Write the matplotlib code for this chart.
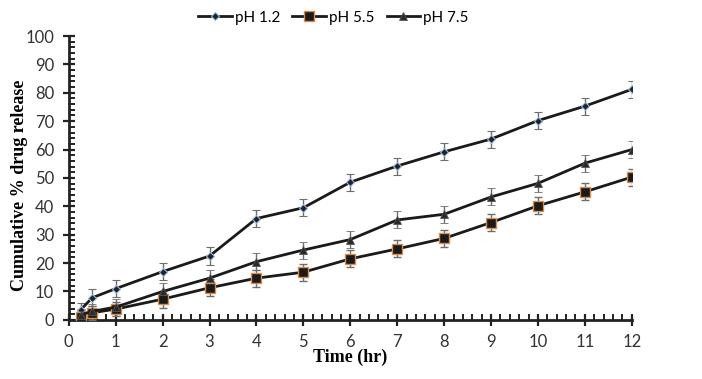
import matplotlib
matplotlib.use("Agg")
import matplotlib.pyplot as plt
from matplotlib.lines import Line2D
from matplotlib.ticker import MultipleLocator

# 数据
time_hr = [0.25, 0.5, 1, 2, 3, 4, 5, 6, 7, 8, 9, 10, 11, 12]
ph12 = [3.5, 7.8, 11.0, 17.0, 22.5, 35.7, 39.5, 48.5, 54.2, 59.2, 63.7, 70.2, 75.3, 81.2]
ph55 = [1.0, 2.5, 3.8, 7.3, 11.3, 14.7, 16.8, 21.5, 25.0, 28.7, 34.3, 40.2, 45.1, 50.3]
ph75 = [1.8, 3.0, 4.5, 10.0, 14.7, 20.5, 24.6, 28.3, 35.2, 37.2, 43.3, 48.1, 55.2, 60.0]
err12 = [2.5, 3.0, 3.0, 3.0, 3.0, 3.0, 3.0, 3.0, 3.0, 3.0, 3.0, 3.0, 3.0, 3.0]
err55 = [2.0, 2.5, 2.5, 3.0, 3.0, 3.0, 3.0, 3.0, 3.0, 3.0, 3.0, 3.0, 3.0, 3.0]
err75 = [2.0, 2.5, 3.0, 3.0, 3.0, 3.0, 3.0, 3.0, 3.0, 3.0, 3.0, 3.0, 3.0, 3.0]

fig = plt.figure(figsize=(7.02, 3.79), dpi=100)
ax = fig.add_axes([0.098, 0.156, 0.802, 0.749])

series = [
    ("pH 1.2", ph12, err12, dict(marker="D", markersize=4, markerfacecolor="#1a2333",
                                  markeredgecolor="#9fb6d6", markeredgewidth=0.8)),
    ("pH 5.5", ph55, err55, dict(marker="s", markersize=7, markerfacecolor="#1a1a1a",
                                  markeredgecolor="#d98c4a", markeredgewidth=1.0)),
    ("pH 7.5", ph75, err75, dict(marker="^", markersize=6, markerfacecolor="#2a2a2a",
                                  markeredgecolor="#555555", markeredgewidth=0.6)),
]
handles = []
for label, y, e, mk in series:
    ax.errorbar(time_hr, y, yerr=e, color="#1a1a1a", lw=2, ecolor="#6e6e6e",
                elinewidth=1, capsize=3, capthick=1, zorder=3, **mk)
    handles.append(Line2D([], [], color="#1a1a1a", lw=2, label=label, **mk))

ax.set_xlim(0, 12)
ax.set_ylim(0, 100)
ax.xaxis.set_major_locator(MultipleLocator(1))
ax.xaxis.set_minor_locator(MultipleLocator(0.2))
ax.yaxis.set_major_locator(MultipleLocator(10))
ax.yaxis.set_minor_locator(MultipleLocator(2))
ax.spines[["top", "right"]].set_visible(False)
for s in ["left", "bottom"]:
    ax.spines[s].set_linewidth(2)
    ax.spines[s].set_color("#222222")
ax.tick_params(which="major", direction="inout", length=9, width=1.6, color="#222222",
               labelsize=12, labelcolor="#333333")
ax.tick_params(axis="x", which="major", pad=6)
ax.tick_params(axis="y", which="major", pad=6)
ax.tick_params(which="minor", direction="in", length=4, width=1.4, color="#222222")
for lab in ax.get_xticklabels() + ax.get_yticklabels():
    lab.set_family("Lato")

ax.set_xlabel("Time (hr)", family="Liberation Serif", fontweight="bold", fontsize=13, labelpad=-1)
ax.set_ylabel("Cumulative % drug release", family="Liberation Serif", fontweight="bold",
              fontsize=13)
ax.yaxis.set_label_coords(-0.073, 0.475)

ax.legend(handles=handles, loc="center", bbox_to_anchor=(0.47, 1.065), ncol=3, frameon=False,
          prop={"family": "Lato", "size": 11}, handlelength=2.2,
          columnspacing=0.8, handletextpad=0.2)

fig.savefig("out.png", dpi=100, facecolor="white")
